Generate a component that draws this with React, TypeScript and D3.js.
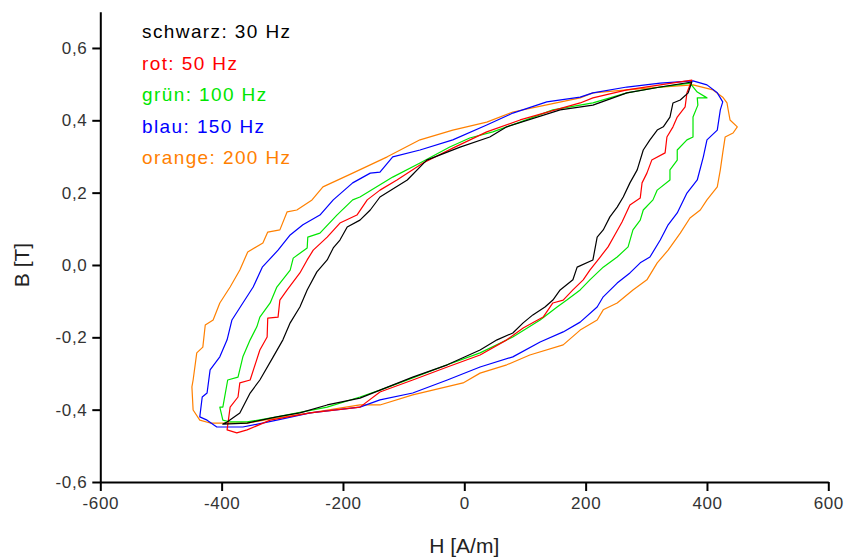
import { useEffect, useRef } from "react";
import * as d3 from "d3";

const width = 845, height = 557;
const margin = { top: 11.8, right: 16.7, bottom: 75, left: 100.3 };

// hysteresis loops, [H in A/m, B in T]
const loop30: [number, number][] = [
  [375, 0.506], [323, 0.492], [268, 0.476], [212, 0.442], [158, 0.429], [70, 0.382], [42, 0.354], [-7, 0.326],
  [-62, 0.29], [-94, 0.235], [-139, 0.188], [-155, 0.152], [-172, 0.124], [-193, 0.105], [-205, 0.069], [-216, 0.047],
  [-226, 0.014], [-243, -0.019], [-259, -0.069], [-271, -0.116], [-287, -0.16], [-299, -0.207], [-315, -0.254],
  [-337, -0.318], [-353, -0.354], [-370, -0.409], [-391, -0.434], [-398, -0.44],
  [-358, -0.437], [-309, -0.42], [-271, -0.409], [-226, -0.387], [-172, -0.368], [-139, -0.346], [-85, -0.31],
  [-28, -0.276], [26, -0.235], [54, -0.207], [80, -0.188], [97, -0.16], [113, -0.138], [133, -0.116], [146, -0.097],
  [158, -0.069], [179, -0.041], [186, -0.006], [212, 0.014], [219, 0.077], [229, 0.097], [240, 0.133], [252, 0.16],
  [262, 0.188], [273, 0.227], [285, 0.263], [295, 0.318], [306, 0.346], [318, 0.373], [328, 0.382], [339, 0.409],
  [344, 0.448], [356, 0.456], [369, 0.476],
];

const loop50: [number, number][] = [
  [375, 0.511], [323, 0.498], [268, 0.484], [212, 0.462], [191, 0.448], [92, 0.401], [37, 0.368], [-19, 0.323],
  [-68, 0.282], [-111, 0.235], [-139, 0.207], [-160, 0.18], [-177, 0.138], [-205, 0.116], [-226, 0.077], [-249, 0.041],
  [-259, 0.014], [-271, -0.022], [-292, -0.069], [-304, -0.097], [-307, -0.144], [-324, -0.147], [-325, -0.199],
  [-337, -0.235], [-353, -0.318], [-370, -0.326], [-373, -0.365], [-386, -0.393], [-391, -0.456], [-375, -0.464],
  [-358, -0.456], [-320, -0.429], [-254, -0.409], [-172, -0.393], [-139, -0.351], [-85, -0.318], [-28, -0.282],
  [26, -0.249], [70, -0.207], [97, -0.174], [130, -0.144], [146, -0.105], [163, -0.097], [179, -0.069], [196, -0.041],
  [207, -0.014], [224, 0.022], [237, 0.05], [248, 0.083], [260, 0.119], [273, 0.166], [290, 0.185], [293, 0.227],
  [301, 0.254], [309, 0.29], [331, 0.31], [334, 0.354], [344, 0.382], [351, 0.409], [364, 0.437], [367, 0.476],
];

const loop100: [number, number][] = [
  [372, 0.503], [323, 0.492], [268, 0.476], [212, 0.448], [146, 0.429], [92, 0.395], [47, 0.368], [9, 0.351],
  [-24, 0.326], [-73, 0.282], [-118, 0.243], [-172, 0.188], [-184, 0.18], [-210, 0.138], [-238, 0.088], [-258, 0.077],
  [-259, 0.047], [-282, 0.019], [-287, -0.014], [-309, -0.061], [-320, -0.105], [-337, -0.144], [-342, -0.171],
  [-353, -0.207], [-365, -0.254], [-373, -0.31], [-390, -0.318], [-398, -0.393], [-403, -0.393], [-398, -0.429],
  [-386, -0.434], [-358, -0.434], [-309, -0.42], [-226, -0.393], [-172, -0.365], [-139, -0.346], [-85, -0.312],
  [-28, -0.276], [26, -0.243], [80, -0.199], [125, -0.152], [153, -0.116], [169, -0.097], [191, -0.069], [207, -0.041],
  [229, -0.006], [252, 0.022], [270, 0.05], [278, 0.097], [290, 0.124], [295, 0.152], [311, 0.18], [318, 0.207],
  [339, 0.235], [339, 0.263], [351, 0.29], [351, 0.318], [367, 0.346], [377, 0.354], [377, 0.409], [385, 0.442],
  [384, 0.462], [400, 0.462], [384, 0.478],
];

const loop150: [number, number][] = [
  [377, 0.509], [323, 0.503], [268, 0.492], [212, 0.476], [191, 0.464], [136, 0.451], [80, 0.42], [37, 0.387],
  [-19, 0.346], [-73, 0.318], [-118, 0.299], [-139, 0.257], [-155, 0.254], [-184, 0.227], [-216, 0.18], [-238, 0.138],
  [-266, 0.111], [-287, 0.083], [-307, 0.041], [-333, -0.006], [-348, -0.061], [-365, -0.105], [-383, -0.152],
  [-391, -0.207], [-403, -0.254], [-419, -0.29], [-424, -0.354], [-432, -0.365], [-436, -0.42], [-424, -0.429],
  [-408, -0.448], [-365, -0.448], [-309, -0.429], [-254, -0.409], [-172, -0.393], [-139, -0.373], [-85, -0.354],
  [-28, -0.318], [26, -0.282], [80, -0.254], [125, -0.213], [163, -0.185], [191, -0.158], [219, -0.116], [229, -0.088],
  [252, -0.05], [273, -0.022], [290, 0.006], [306, 0.022], [323, 0.069], [336, 0.111], [351, 0.144], [367, 0.199],
  [384, 0.235], [394, 0.299], [400, 0.346], [417, 0.373], [422, 0.429], [426, 0.451], [417, 0.476], [400, 0.498],
];

const loop200: [number, number][] = [
  [377, 0.498], [323, 0.492], [268, 0.484], [212, 0.476], [191, 0.462], [120, 0.437], [80, 0.423], [37, 0.395],
  [-19, 0.373], [-73, 0.346], [-127, 0.299], [-184, 0.254], [-233, 0.216], [-251, 0.18], [-276, 0.152], [-292, 0.147],
  [-304, 0.097], [-324, 0.091], [-332, 0.061], [-357, 0.036], [-370, -0.014], [-386, -0.061], [-403, -0.105],
  [-414, -0.152], [-427, -0.166], [-431, -0.227], [-441, -0.243], [-447, -0.318], [-449, -0.337], [-447, -0.401],
  [-436, -0.429], [-419, -0.437], [-398, -0.437], [-358, -0.437], [-309, -0.423], [-254, -0.409], [-172, -0.387],
  [-139, -0.387], [-85, -0.359], [-2, -0.326], [26, -0.299], [70, -0.276], [108, -0.249], [163, -0.221], [191, -0.18],
  [219, -0.152], [229, -0.124], [252, -0.105], [278, -0.069], [301, -0.041], [318, 0.006], [336, 0.041], [356, 0.088],
  [372, 0.13], [389, 0.152], [400, 0.18], [417, 0.216], [422, 0.263], [426, 0.31], [430, 0.354], [443, 0.365],
  [450, 0.382], [438, 0.401], [435, 0.429], [433, 0.448], [426, 0.464], [410, 0.484],
];

const loops = [loop200, loop150, loop100, loop50, loop30];
const loopColors = ["#ff8000", "#0000ff", "#00e600", "#ff0000", "#000000"];

const legendLabels = ["schwarz: 30 Hz", "rot: 50 Hz", "grün: 100 Hz", "blau: 150 Hz", "orange: 200 Hz"];
const legendColors = ["#000000", "#ff0000", "#00e600", "#0000ff", "#ff8000"];

const xMajor = [-600, -400, -200, 0, 200, 400, 600];
const xMinor = [-500, -300, -100, 100, 300, 500];
const yMajor = [-0.6, -0.4, -0.2, 0, 0.2, 0.4, 0.6];
const yMinor = [-0.5, -0.3, -0.1, 0.1, 0.3, 0.5, 0.7];

const font = "'Liberation Sans', Arial, sans-serif";

const App = () => {
  const ref = useRef<SVGSVGElement>(null);

  useEffect(() => {
    const svg = d3.select(ref.current);
    svg.selectAll("*").remove();

    const x = d3.scaleLinear().domain([-600, 600]).range([margin.left, width - margin.right]);
    const y = d3.scaleLinear().domain([-0.6, 0.7]).range([height - margin.bottom, margin.top]);

    // loops
    const line = d3.line<[number, number]>()
      .x(d => x(d[0]))
      .y(d => y(d[1]))
      .curve(d3.curveLinearClosed);

    svg.append("g").selectAll("path")
      .data(loops)
      .enter().append("path")
      .attr("d", d => line(d))
      .attr("fill", "none")
      .attr("stroke", (d, i) => loopColors[i])
      .attr("stroke-width", 1.2)
      .attr("stroke-linejoin", "round");

    // axes (plain hyphen minus, decimal comma)
    const xFmt = (d: any) => String(d);
    const yFmt = (d: any) => d3.format(".1f")(d).replace("−", "-").replace(".", ",");

    const xAxis = svg.append("g").attr("transform", "translate(0," + (height - margin.bottom) + ")");
    xAxis.call(d3.axisBottom(x).tickValues(xMinor).tickSize(5).tickSizeOuter(0).tickFormat(() => ""));
    xAxis.call(d3.axisBottom(x).tickValues(xMajor).tickSize(9).tickSizeOuter(0).tickPadding(6).tickFormat(xFmt));

    const yAxis = svg.append("g").attr("transform", "translate(" + margin.left + ",0)");
    yAxis.call(d3.axisLeft(y).tickValues(yMinor).tickSize(4).tickSizeOuter(0).tickFormat(() => ""));
    yAxis.call(d3.axisLeft(y).tickValues(yMajor).tickSize(8).tickSizeOuter(0).tickPadding(5).tickFormat(yFmt));

    svg.selectAll(".domain").attr("stroke", "#000").attr("stroke-width", 2);
    svg.selectAll(".tick line").attr("stroke", "#000").attr("stroke-width", 2);
    svg.selectAll(".tick text")
      .attr("font-family", font)
      .attr("font-size", 17)
      .attr("letter-spacing", 0.6)
      .attr("fill", "#333");

    // axis titles
    svg.append("text")
      .attr("x", x(0))
      .attr("y", 553)
      .attr("text-anchor", "middle")
      .attr("font-family", font)
      .attr("font-size", 21)
      .attr("fill", "#222")
      .text("H [A/m]");

    svg.append("text")
      .attr("transform", "translate(29," + y(0) + ") rotate(-90)")
      .attr("text-anchor", "middle")
      .attr("font-family", font)
      .attr("font-size", 21)
      .attr("fill", "#222")
      .text("B [T]");

    // legend
    svg.append("g").selectAll("text")
      .data(legendLabels)
      .enter().append("text")
      .attr("x", 142)
      .attr("y", (d, i) => 38 + i * 31.5)
      .attr("font-family", font)
      .attr("font-size", 19)
      .attr("letter-spacing", 1.4)
      .attr("fill", (d, i) => legendColors[i])
      .text(d => d);
  }, []);

  return (
    <svg ref={ref} width={width} height={height}
      style={{ position: "absolute", left: 0, top: 0, background: "#fff" }} />
  );
};

export default App;
